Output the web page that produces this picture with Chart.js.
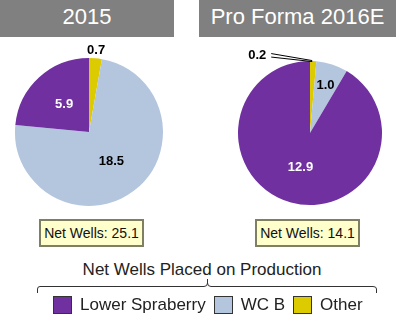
<!DOCTYPE html>
<html lang="en">

<head>
    <meta charset="utf-8">
    <title>Net Wells Placed on Production</title>
    <script src="https://cdn.jsdelivr.net/npm/chart.js@4.4.0/dist/chart.umd.min.js"></script>

    <style>
        body {
            margin: 0;
            padding: 0;
            background: #fff;
            font-family: 'Liberation Sans', Arial, sans-serif;
        }

        #wrap {
            position: relative;
            width: 399px;
            height: 322px;
            overflow: hidden;
        }

        .hdr {
            position: absolute;
            top: 0;
            height: 37px;
            line-height: 33px;
            background: #808080;
            color: #fff;
            font-size: 22px;
            text-align: center;
        }

        canvas {
            position: absolute;
            top: 38px;
        }

        .total {
            position: absolute;
            top: 219px;
            width: 101px;
            height: 24px;
            line-height: 25px;
            border: 2px solid #7f7f62;
            background: #ffffcc;
            font-size: 14px;
            color: #111;
            text-align: center;
        }

        #caption {
            position: absolute;
            top: 260px;
            left: 0;
            width: 404px;
            font-size: 17px;
            line-height: 20px;
            color: #222;
            text-align: center;
        }

        #legend {
            position: absolute;
            top: 295px;
            left: 53px;
            display: flex;
            align-items: center;
            font-size: 17px;
            line-height: 19px;
            color: #222;
        }

        #legend .sw {
            width: 17px;
            height: 16px;
            border: 1.5px solid #333;
            margin-right: 8px;
        }

        #legend .item {
            display: flex;
            align-items: center;
            margin-right: 8px;
        }

        svg {
            position: absolute;
            left: 0;
            top: 0;
        }
    </style>
</head>

<body>
    <div id="wrap">
        <div class="hdr" style="left:0; width:174px;">2015</div>
        <div class="hdr" style="left:199px; width:197px;">Pro Forma 2016E</div>

        <canvas id="pie2015" width="199" height="178" style="left:0;"></canvas>
        <canvas id="pie2016" width="200" height="178" style="left:199px;"></canvas>

        <div class="total" id="total2015" style="left:39px;"></div>
        <div class="total" id="total2016" style="left:255px;"></div>

        <div id="caption">Net Wells Placed on Production</div>
        <svg width="399" height="322">
            <path d="M37.5,293 L37.5,289 Q37.5,286.5 40,286.5 L204,286.5 Q207.5,286.5 207.5,283 L207.5,279
                     M207.5,283 Q207.5,286.5 211,286.5 L373,286.5 Q376.5,286.5 376.5,289 L376.5,293"
                fill="none" stroke="#333" stroke-width="1"/>
        </svg>
        <div id="legend"></div>
    </div>

    <script>
        // categories in legend order
        const categories = ['Lower Spraberry', 'WC B', 'Other'];
        const colors = ['#7030a0', '#b4c6de', '#dccb00'];

        const wells2015 = [5.9, 18.5, 0.7];
        const wells2016E = [12.9, 1.0, 0.2];

        // pies run clockwise from 12 o'clock: Other, WC B, Lower Spraberry
        const pieOrder = [2, 1, 0];

        // draws the value of each slice on or next to it
        const sliceLabels = {
            id: 'sliceLabels',
            afterDatasetsDraw(chart, args, opts) {
                const ctx = chart.ctx;
                const meta = chart.getDatasetMeta(0);
                const values = chart.data.datasets[0].data;
                ctx.save();
                ctx.font = 'bold 13px "Liberation Sans", Arial, sans-serif';
                ctx.textAlign = 'center';
                ctx.textBaseline = 'middle';
                meta.data.forEach((arc, i) => {
                    const p = arc.getProps(['x', 'y', 'startAngle', 'endAngle', 'outerRadius']);
                    const mid = (p.startAngle + p.endAngle) / 2;
                    const place = opts.places[i];
                    const text = values[i].toFixed(1);
                    ctx.fillStyle = place.color;

                    if (place.leader) {
                        const ex = p.x + Math.cos(mid) * p.outerRadius;
                        const ey = p.y + Math.sin(mid) * p.outerRadius;
                        const tx = ex + place.leader[0];
                        const ty = ey + place.leader[1];
                        ctx.strokeStyle = '#000';
                        ctx.lineWidth = 1;
                        ctx.beginPath();
                        ctx.moveTo(tx + 14, ty - 1.5);
                        ctx.lineTo(ex - 1, ey - 0.5);
                        ctx.moveTo(tx + 14, ty + 2);
                        ctx.lineTo(ex - 1, ey + 0.5);
                        ctx.stroke();
                        ctx.fillText(text, tx, ty);
                        return;
                    }

                    const r = place.outside ? p.outerRadius + place.outside : p.outerRadius * place.r;
                    ctx.fillText(text, p.x + Math.cos(mid) * r, p.y + Math.sin(mid) * r);
                });
                ctx.restore();
            }
        };

        function makePie(id, values, padding, places) {
            const ctx = document.getElementById(id).getContext('2d');
            return new Chart(ctx, {
                type: 'pie',
                data: {
                    labels: pieOrder.map(i => categories[i]),
                    datasets: [{
                        data: pieOrder.map(i => values[i]),
                        backgroundColor: pieOrder.map(i => colors[i]),
                        borderWidth: 0
                    }]
                },
                options: {
                    responsive: false,
                    animation: false,
                    devicePixelRatio: 1,
                    layout: { padding: padding },
                    plugins: {
                        legend: { display: false },
                        tooltip: { enabled: false },
                        sliceLabels: { places: places }
                    }
                },
                plugins: [sliceLabels]
            });
        }

        makePie('pie2015', wells2015, { left: 15, right: 36, top: 20, bottom: 10 }, [
            { outside: 7.5, color: '#000' },
            { r: 0.5, color: '#000' },
            { r: 0.5, color: '#fff' }
        ]);

        makePie('pie2016', wells2016E, { left: 39, right: 17, top: 23, bottom: 11 }, [
            { leader: [-56, -6], color: '#000' },
            { r: 0.7, color: '#000' },
            { r: 0.5, color: '#fff' }
        ]);

        const sum = arr => arr.reduce((a, b) => a + b, 0);
        document.getElementById('total2015').textContent = 'Net Wells: ' + sum(wells2015).toFixed(1);
        document.getElementById('total2016').textContent = 'Net Wells: ' + sum(wells2016E).toFixed(1);

        const legend = document.getElementById('legend');
        categories.forEach((name, i) => {
            const item = document.createElement('div');
            item.className = 'item';
            const sw = document.createElement('div');
            sw.className = 'sw';
            sw.style.background = colors[i];
            const label = document.createElement('span');
            label.textContent = name;
            item.appendChild(sw);
            item.appendChild(label);
            legend.appendChild(item);
        });
    </script>
</body>

</html>
